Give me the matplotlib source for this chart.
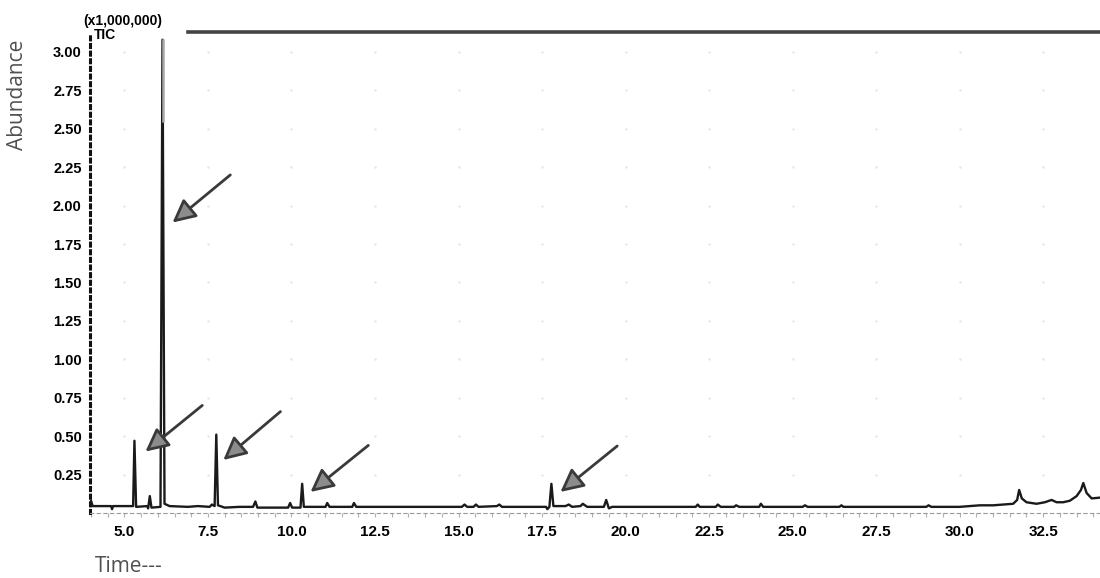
import numpy as np
import matplotlib
matplotlib.use('Agg')
import matplotlib.pyplot as plt

# TIC trace: (retention time in min, abundance x1,000,000)
trace = [
    (4.00, 0.080), (4.05, 0.045), (4.60, 0.045), (4.63, 0.025), (4.66, 0.045),
    (5.26, 0.045), (5.30, 0.470), (5.35, 0.040), (5.68, 0.045), (5.71, 0.030),
    (5.76, 0.110), (5.81, 0.035), (6.08, 0.040), (6.14, 3.080), (6.20, 0.060),
    (6.35, 0.045), (6.90, 0.040), (7.20, 0.045), (7.55, 0.040), (7.62, 0.055),
    (7.70, 0.045), (7.75, 0.510), (7.80, 0.050), (8.00, 0.035), (8.45, 0.040),
    (8.85, 0.040), (8.92, 0.075), (8.98, 0.035), (9.90, 0.035), (9.96, 0.065),
    (10.02, 0.035), (10.27, 0.035), (10.32, 0.190), (10.37, 0.040), (11.02, 0.040),
    (11.07, 0.065), (11.14, 0.040), (11.82, 0.040), (11.87, 0.065), (11.94, 0.040),
    (12.50, 0.040), (14.40, 0.040), (15.10, 0.040), (15.18, 0.055), (15.26, 0.040),
    (15.45, 0.040), (15.52, 0.055), (15.60, 0.040), (16.15, 0.045), (16.22, 0.055),
    (16.30, 0.040), (17.62, 0.040), (17.66, 0.025), (17.72, 0.040), (17.78, 0.190),
    (17.84, 0.045), (18.20, 0.045), (18.30, 0.055), (18.40, 0.040), (18.65, 0.045),
    (18.72, 0.060), (18.85, 0.040), (19.35, 0.040), (19.42, 0.085), (19.50, 0.030),
    (19.60, 0.040), (22.10, 0.040), (22.16, 0.055), (22.22, 0.040), (22.70, 0.040),
    (22.76, 0.055), (22.85, 0.040), (23.25, 0.040), (23.31, 0.050), (23.40, 0.040),
    (24.00, 0.040), (24.05, 0.060), (24.12, 0.040), (25.30, 0.040), (25.37, 0.050),
    (25.45, 0.040), (26.40, 0.040), (26.46, 0.050), (26.52, 0.040), (29.00, 0.040),
    (29.07, 0.050), (29.15, 0.040), (30.00, 0.040), (30.60, 0.050), (31.00, 0.050),
    (31.30, 0.055), (31.60, 0.060), (31.72, 0.085), (31.78, 0.150), (31.86, 0.095),
    (32.00, 0.070), (32.30, 0.060), (32.55, 0.070), (32.75, 0.085), (32.90, 0.070),
    (33.10, 0.070), (33.30, 0.080), (33.50, 0.110), (33.63, 0.150), (33.70, 0.195),
    (33.80, 0.130), (33.95, 0.095), (34.20, 0.100),
]
times = [t for t, _ in trace]
abundance = [a for _, a in trace]

saturation = 2.55  # above this the apex of the big peak is drawn grey
apex_time = 6.14
apex_value = 3.08

# arrows marking the identified peaks: (tail time, tail abundance, tip time, tip abundance)
arrows = [
    (8.17, 2.20, 6.44, 1.89),
    (7.33, 0.70, 5.63, 0.40),
    (9.67, 0.66, 7.96, 0.345),
    (12.30, 0.44, 10.57, 0.137),
    (19.75, 0.436, 18.05, 0.137),
]

x_ticks = [5.0, 7.5, 10.0, 12.5, 15.0, 17.5, 20.0, 22.5, 25.0, 27.5, 30.0, 32.5]
y_ticks = [0.25, 0.50, 0.75, 1.00, 1.25, 1.50, 1.75, 2.00, 2.25, 2.50, 2.75, 3.00]

plt.rcParams['font.family'] = ['Liberation Sans', 'DejaVu Sans']

fig = plt.figure(figsize=(11, 5.78), dpi=100)
ax = fig.add_axes([90 / 1100, 65 / 578, 1010 / 1100, 481 / 578])
ax.set_xlim(3.97, 34.2)
ax.set_ylim(0.0, 3.13)

# faint grid dots at the major tick crossings
gx, gy = np.meshgrid(x_ticks, y_ticks)
ax.scatter(gx.ravel(), gy.ravel(), s=3, color='#dfe8ea', zorder=0, linewidths=0)

ax.plot(times, abundance, color='#1a1a1a', lw=1.7, zorder=3)
ax.plot([apex_time, apex_time], [saturation, apex_value], color='#a8a8a8', lw=1.8, zorder=4)

for x0, y0, x1, y1 in arrows:
    ax.annotate('', xy=(x1, y1), xytext=(x0, y0),
                arrowprops=dict(arrowstyle='-|>,head_length=1.0,head_width=0.5',
                                fc='#8c8c8c', ec='#3a3a3a', lw=2,
                                mutation_scale=14, shrinkA=0, shrinkB=0),
                zorder=5)

# top frame line
ax.axhline(3.13, xmin=0.097, xmax=1.0, color='#444444', lw=2.6, clip_on=False)

for side in ['top', 'right']:
    ax.spines[side].set_visible(False)
ax.spines['left'].set_linestyle((0, (1, 1.5)))
ax.spines['left'].set_linewidth(2.2)
ax.spines['left'].set_color('#111111')
ax.spines['bottom'].set_linestyle((0, (3, 3)))
ax.spines['bottom'].set_linewidth(0.8)
ax.spines['bottom'].set_color('#9a9a9a')

ax.set_xticks(x_ticks)
ax.set_xticklabels([f'{v:.1f}' for v in x_ticks], fontsize=11, fontweight='bold')
ax.set_xticks(np.arange(4.0, 34.5, 0.5), minor=True)
ax.tick_params(axis='x', which='both', length=3, width=0.8, color='#b0b0b0', pad=6)
ax.set_yticks(y_ticks)
ax.set_yticklabels([f'{v:.2f}' for v in y_ticks], fontsize=10.5, fontweight='bold')
ax.tick_params(axis='y', length=0, pad=6)

fig.text(18 / 1100, 1 - 95 / 578, 'Abundance', rotation=90, ha='center', va='center',
         fontsize=15, color='#505050', family=['Open Sans', 'DejaVu Sans'])
fig.text(95 / 1100, 1 - 566 / 578, 'Time---', ha='left', va='center',
         fontsize=15, color='#505050', family=['Open Sans', 'DejaVu Sans'])
fig.text(123 / 1100, 1 - 21 / 578, '(x1,000,000)', ha='center', va='center',
         fontsize=10, fontweight='bold')
fig.text(94 / 1100, 1 - 35 / 578, 'TIC', ha='left', va='center',
         fontsize=10, fontweight='bold')

fig.savefig('out.png', dpi=100)
